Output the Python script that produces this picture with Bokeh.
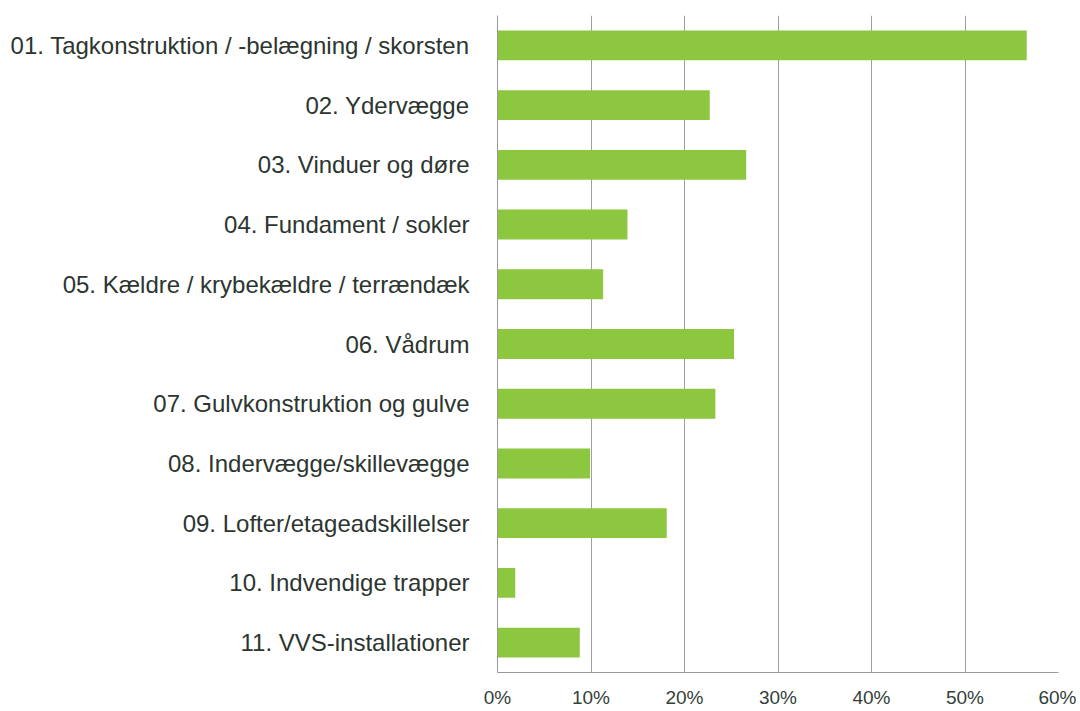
from bokeh.plotting import figure
from bokeh.models import FactorRange, PrintfTickFormatter, FixedTicker
from bokeh.embed import file_html
from bokeh.resources import INLINE

categories = [
    "01. Tagkonstruktion / -belægning / skorsten",
    "02. Ydervægge",
    "03. Vinduer og døre",
    "04. Fundament / sokler",
    "05. Kældre / krybekældre / terrændæk",
    "06. Vådrum",
    "07. Gulvkonstruktion og gulve",
    "08. Indervægge/skillevægge",
    "09. Lofter/etageadskillelser",
    "10. Indvendige trapper",
    "11. VVS-installationer",
]
values = [56.6, 22.7, 26.6, 13.9, 11.3, 25.3, 23.3, 9.9, 18.1, 1.9, 8.8]
x_ticks = [0, 10, 20, 30, 40, 50, 60]

p = figure(
    width=1076, height=710,
    y_range=FactorRange(*reversed(categories)),
    x_range=(0, 60),
    output_backend="svg", toolbar_location=None,
    min_border_left=497, min_border_right=18, min_border_top=15, min_border_bottom=36,
)
p.hbar(y=categories, right=values, left=0, height=0.5, color="#8dc63f", line_color=None)

p.outline_line_color = None
p.xaxis.ticker = FixedTicker(ticks=x_ticks)
p.xaxis.formatter = PrintfTickFormatter(format="%d%%")
p.xaxis.major_tick_line_color = None
p.xaxis.minor_tick_line_color = None
p.xaxis.axis_line_color = "#9a9a9a"
p.xaxis.major_label_text_font = "Liberation Sans"
p.xaxis.major_label_text_font_size = "19px"
p.xaxis.major_label_text_color = "#34403a"
p.xaxis.major_label_standoff = 8

p.yaxis.major_tick_line_color = None
p.yaxis.minor_tick_line_color = None
p.yaxis.axis_line_color = "#9a9a9a"
p.yaxis.major_label_text_font = "Liberation Sans"
p.yaxis.major_label_text_font_size = "24px"
p.yaxis.major_label_text_color = "#2c3530"
p.yaxis.major_label_standoff = 22

p.xgrid.ticker = FixedTicker(ticks=x_ticks)
p.xgrid.grid_line_color = "#a0a0a0"
p.xgrid.grid_line_width = 1
p.ygrid.grid_line_color = None

open("out.html", "w").write(file_html(p, INLINE))
